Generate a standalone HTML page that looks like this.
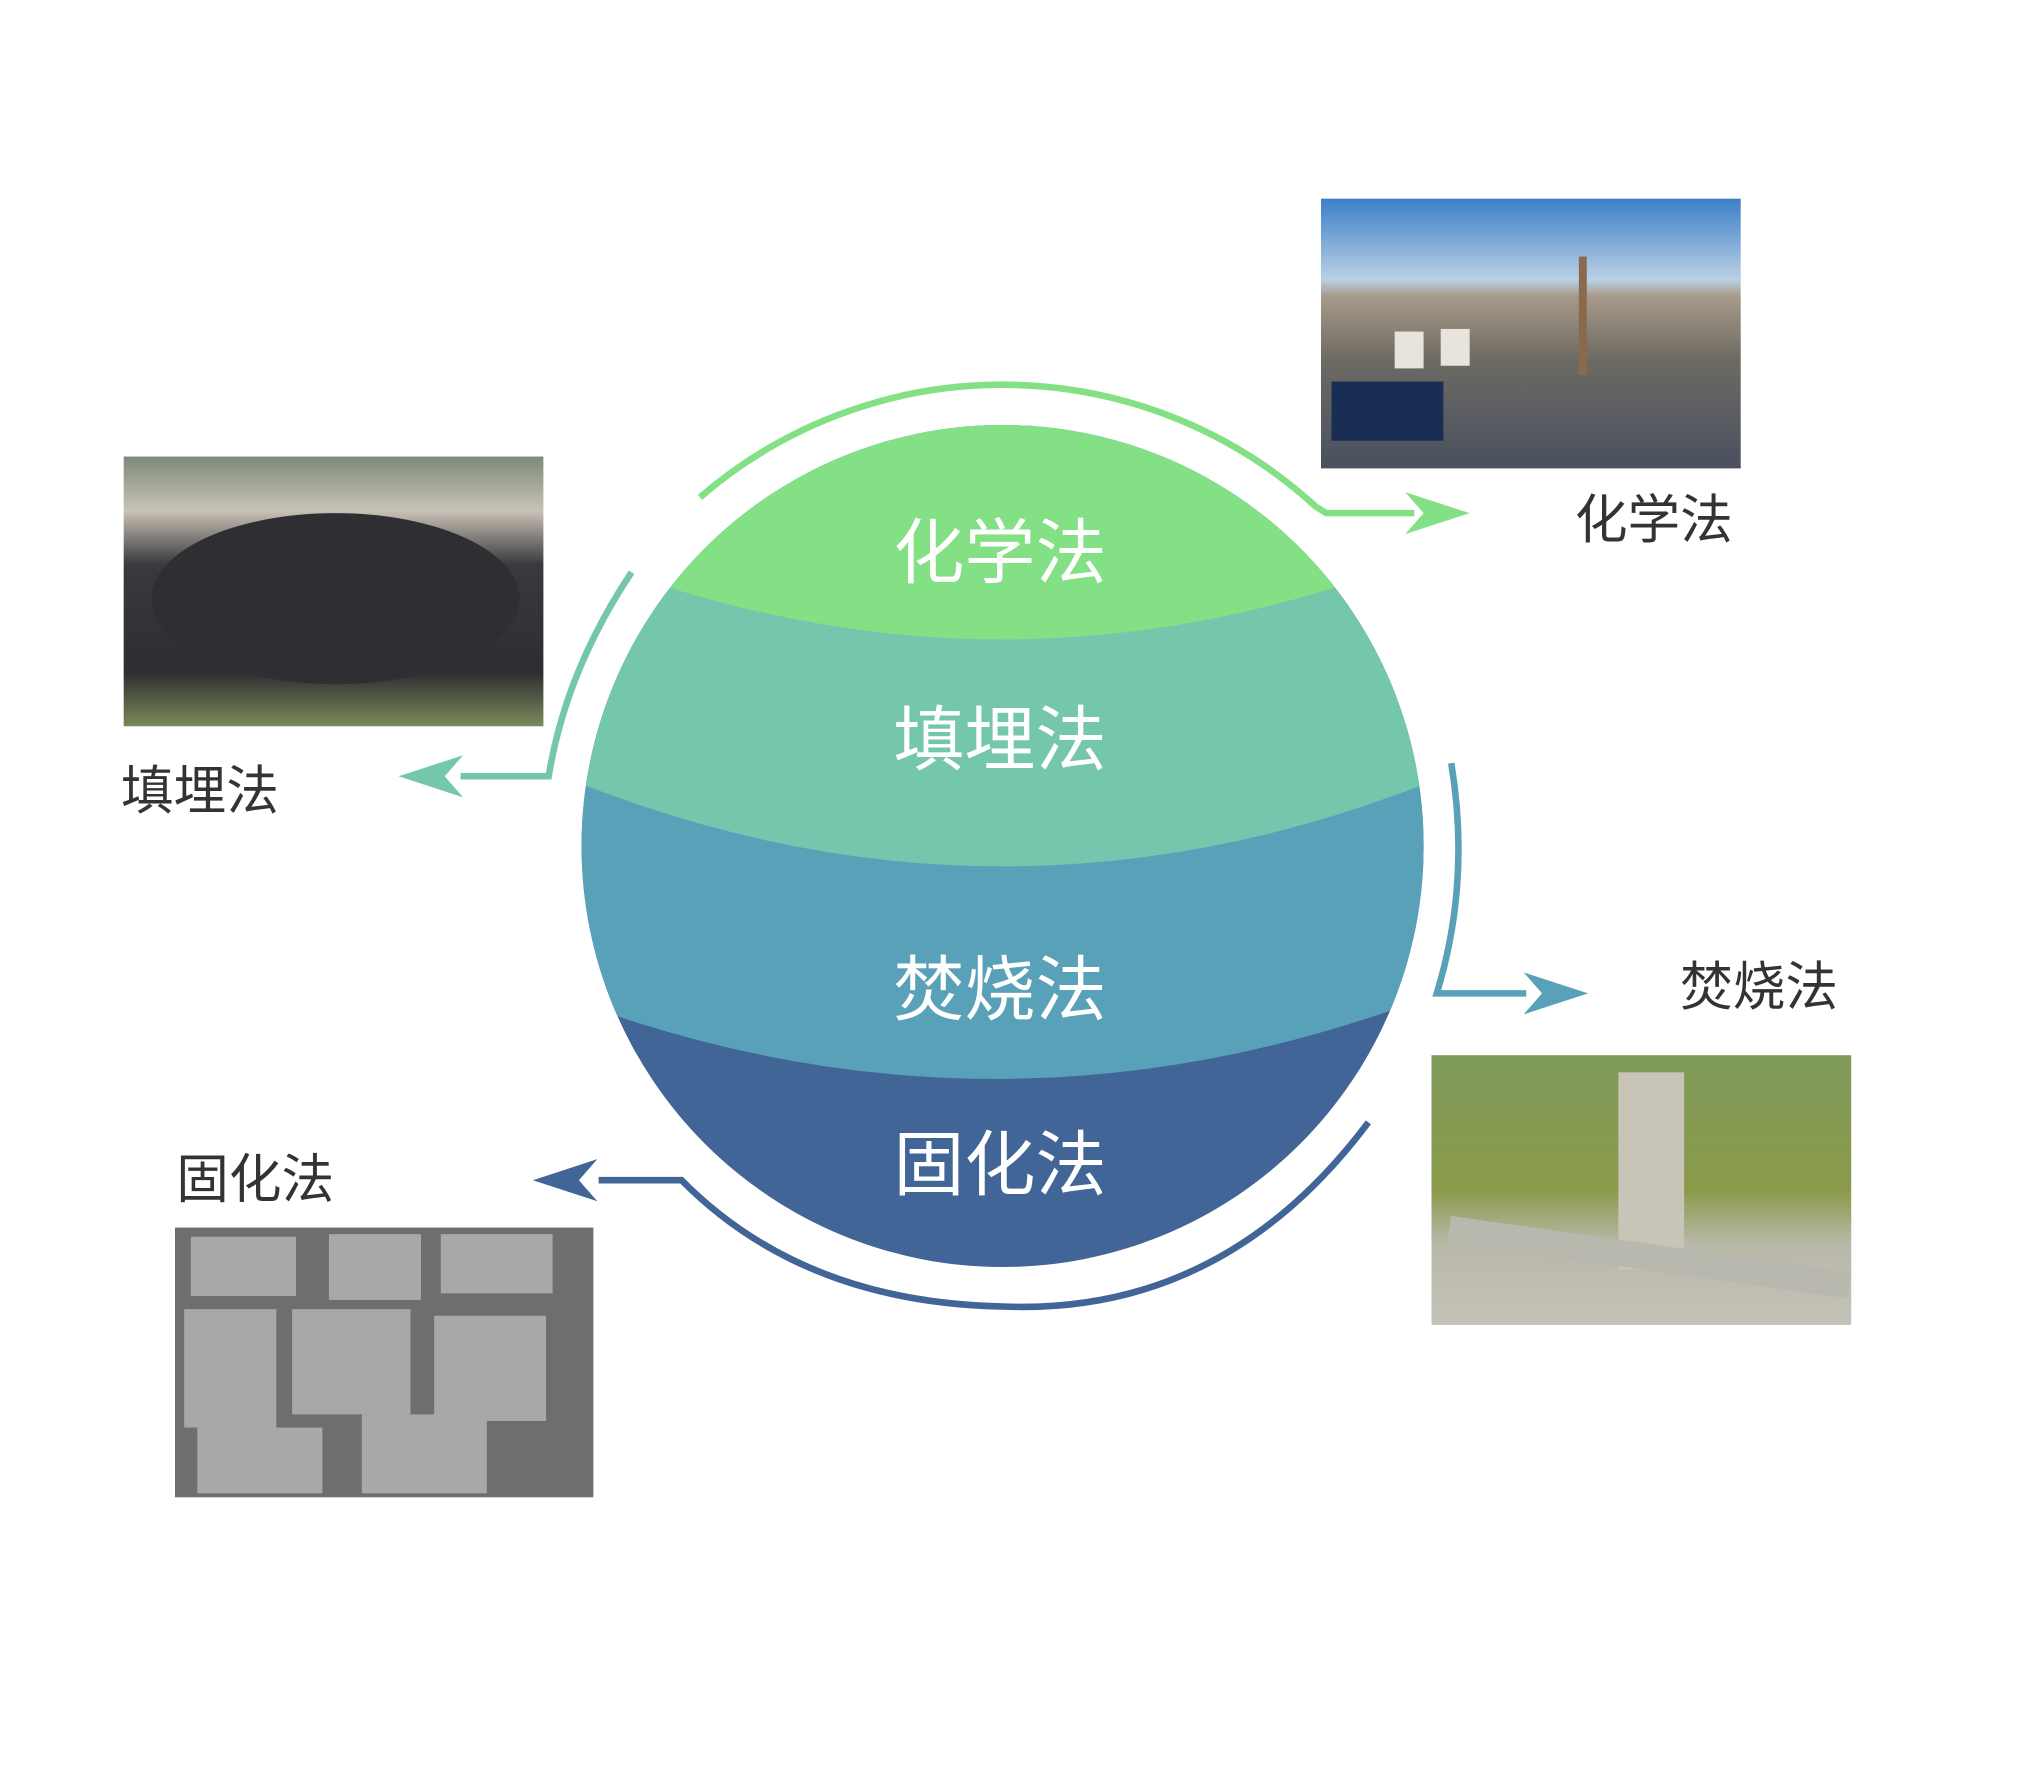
<!DOCTYPE html>
<html><head><meta charset="utf-8"><style>
html,body{margin:0;padding:0;background:#fff;}
svg{display:block;}
text{font-family:"Liberation Sans","Noto Sans CJK SC",sans-serif;}
</style></head><body>
<svg width="2042" height="1767" viewBox="0 0 1552 1343" preserveAspectRatio="none" xmlns="http://www.w3.org/2000/svg">
<defs>
<clipPath id="sp"><ellipse cx="762" cy="643" rx="320" ry="320"/></clipPath>
<linearGradient id="sky" x1="0" y1="0" x2="0" y2="1">
<stop offset="0" stop-color="#3c7fc8"/><stop offset="0.3" stop-color="#b9d0e6"/><stop offset="0.36" stop-color="#a89a8a"/><stop offset="0.6" stop-color="#6c6a62"/><stop offset="1" stop-color="#4a5060"/></linearGradient>
<linearGradient id="land" x1="0" y1="0" x2="0" y2="1">
<stop offset="0" stop-color="#7d8a78"/><stop offset="0.2" stop-color="#c9c2b6"/><stop offset="0.4" stop-color="#3a3a3e"/><stop offset="0.8" stop-color="#2e2e32"/><stop offset="1" stop-color="#7a8a5a"/></linearGradient>
<linearGradient id="inc" x1="0" y1="0" x2="0" y2="1">
<stop offset="0" stop-color="#7f9a5a"/><stop offset="0.5" stop-color="#8a9a4a"/><stop offset="0.7" stop-color="#b8b8a8"/><stop offset="1" stop-color="#c4c2b8"/></linearGradient>
</defs>
<g clip-path="url(#sp)">
<rect x="400" y="300" width="720" height="700" fill="#426598"/>
<path d="M400,300 H1120 V768 L1057,768 Q762,870 468,772 L400,772 Z" fill="#59A1B9"/>
<path d="M400,300 H1120 V597 L1080,597 Q762,720 445,597 L400,597 Z" fill="#74C7AD"/>
<path d="M400,300 H1120 V447 L1013,447 Q762,525 510,447 L400,447 Z" fill="#84E084"/>
</g>
<g fill="#fff" font-size="54" text-anchor="middle">
<text x="760" y="439">化学法</text>
<text x="760" y="581">填埋法</text>
<text x="760" y="771">焚烧法</text>
<text x="760" y="904">固化法</text>
</g>
<g fill="none" stroke-width="5">
<path d="M532,378 A352,352 0 0 1 1000,385 L1008,390 L1075,390" stroke="#84E084"/>
<path d="M480,435 Q430,510 417,590 L350,590" stroke="#74C7AD"/>
<path d="M1103,580 Q1118,670 1092,755 L1160,755" stroke="#59A1B9"/>
<path d="M1040,853 Q930,1000 762,993 Q610,990 518,897 L455,897" stroke="#426598"/>
</g>
<path d="M1117,390 L1068,374 L1082,390 L1068,406 Z" fill="#84E084"/>
<path d="M303,590 L352,574 L338,590 L352,606 Z" fill="#74C7AD"/>
<path d="M1207,755 L1158,739 L1172,755 L1158,771 Z" fill="#59A1B9"/>
<path d="M405,897 L454,881 L440,897 L454,913 Z" fill="#426598"/>
<g fill="#333" font-size="40">
<text x="1197" y="409">化学法</text>
<text x="92" y="615">填埋法</text>
<text x="1277" y="764">焚烧法</text>
<text x="134" y="910">固化法</text>
</g>
<rect x="1004" y="151" width="319" height="205" fill="url(#sky)"/>
<rect x="1200" y="195" width="6" height="90" fill="#8a6a4a"/>
<rect x="1012" y="290" width="85" height="45" fill="#1a2e55"/>
<rect x="1060" y="252" width="22" height="28" fill="#e8e4dc"/>
<rect x="1095" y="250" width="22" height="28" fill="#e8e4dc"/>
<rect x="94" y="347" width="319" height="205" fill="url(#land)"/>
<ellipse cx="255" cy="455" rx="140" ry="65" fill="#2f2f33"/>
<rect x="1088" y="802" width="319" height="205" fill="url(#inc)"/>
<rect x="1230" y="815" width="50" height="150" fill="#c8c4b8"/>
<rect x="1100" y="945" width="307" height="20" fill="#b8b8ae" transform="rotate(8 1250 955)"/>
<rect x="133" y="933" width="318" height="205" fill="#6e6e6e"/>
<g fill="#a8a8a8">
<rect x="145" y="940" width="80" height="45"/><rect x="250" y="938" width="70" height="50"/><rect x="335" y="938" width="85" height="45"/>
<rect x="140" y="995" width="70" height="90"/><rect x="222" y="995" width="90" height="80"/><rect x="330" y="1000" width="85" height="80"/>
<rect x="150" y="1085" width="95" height="50"/><rect x="275" y="1075" width="95" height="60"/>
</g>
</svg>
</body></html>
